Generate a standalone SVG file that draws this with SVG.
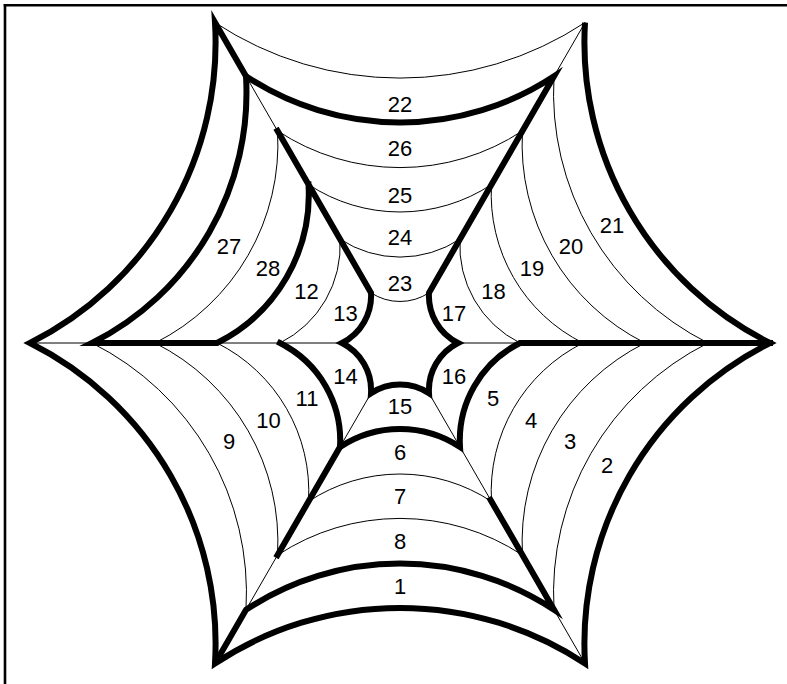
<svg xmlns="http://www.w3.org/2000/svg" width="787" height="684" viewBox="0 0 787 684">
<style>
.thin{fill:none;stroke:#000;stroke-width:1}
.thick{fill:none;stroke:#000;stroke-width:6;stroke-linejoin:miter;stroke-miterlimit:10}
.sq{stroke-linecap:square}
.bt{stroke-linecap:butt}
.frame{fill:none;stroke:#000;stroke-width:2.6}
text{font-family:"Liberation Sans",Arial,sans-serif;font-size:22px;fill:#000;text-anchor:middle}
</style>
<rect width="787" height="684" fill="#fff"/>
<g id="frame">
<line class="frame" x1="3.7" y1="5.3" x2="787" y2="5.3"/>
<line class="frame" x1="5" y1="4" x2="5" y2="684"/>
</g>
<g id="spokes">
<line class="thin" x1="458" y1="343" x2="770" y2="343"/>
<line class="thin" x1="342" y1="343" x2="30" y2="343"/>
<line class="thin" x1="429" y1="292.77" x2="585" y2="22.58"/>
<line class="thin" x1="371" y1="292.77" x2="215" y2="22.58"/>
<line class="thin" x1="429" y1="393.23" x2="585" y2="663.42"/>
<line class="thin" x1="371" y1="393.23" x2="215" y2="663.42"/>
</g>
<g id="rings">
<path class="thin" d="M371,292.77 A52.68,52.68 0 0 0 429,292.77 A52.68,52.68 0 0 0 458,343 A52.68,52.68 0 0 0 429,393.23 A52.68,52.68 0 0 0 371,393.23 A52.68,52.68 0 0 0 342,343 A52.68,52.68 0 0 0 371,292.77"/>
<path class="thin" d="M340,239.08 A109,109 0 0 0 460,239.08 A109,109 0 0 0 520,343 A109,109 0 0 0 460,446.92 A109,109 0 0 0 340,446.92 A109,109 0 0 0 280,343 A109,109 0 0 0 340,239.08"/>
<path class="thin" d="M308.5,184.52 A166.2,166.2 0 0 0 491.5,184.52 A166.2,166.2 0 0 0 583,343 A166.2,166.2 0 0 0 491.5,501.48 A166.2,166.2 0 0 0 308.5,501.48 A166.2,166.2 0 0 0 217,343 A166.2,166.2 0 0 0 308.5,184.52"/>
<path class="thin" d="M277.5,130.82 A222.5,222.5 0 0 0 522.5,130.82 A222.5,222.5 0 0 0 645,343 A222.5,222.5 0 0 0 522.5,555.18 A222.5,222.5 0 0 0 277.5,555.18 A222.5,222.5 0 0 0 155,343 A222.5,222.5 0 0 0 277.5,130.82"/>
<path class="thin" d="M246,76.26 A279.8,279.8 0 0 0 554,76.26 A279.8,279.8 0 0 0 708,343 A279.8,279.8 0 0 0 554,609.74 A279.8,279.8 0 0 0 246,609.74 A279.8,279.8 0 0 0 92,343 A279.8,279.8 0 0 0 246,76.26"/>
<path class="thin" d="M215,22.58 A336.1,336.1 0 0 0 585,22.58 A336.1,336.1 0 0 0 770,343 A336.1,336.1 0 0 0 585,663.42 A336.1,336.1 0 0 0 215,663.42 A336.1,336.1 0 0 0 30,343 A336.1,336.1 0 0 0 215,22.58"/>
</g>
<g id="thick-web">
<path class="thick bt" d="M246,76.26 L215,22.58 A336.1,336.1 0 0 1 30,343 A336.1,336.1 0 0 1 215,663.42 A336.1,336.1 0 0 1 585,663.42 A336.1,336.1 0 0 1 770,343 A336.1,336.1 0 0 1 585,22.58"/>
<path class="thick sq" d="M277.5,130.82 L371,292.77 A52.68,52.68 0 0 1 342,343 A52.68,52.68 0 0 1 371,393.23 A52.68,52.68 0 0 1 429,393.23 A52.68,52.68 0 0 1 458,343 A52.68,52.68 0 0 1 429,292.77 L554,76.26 A279.8,279.8 0 0 1 246,76.26 A279.8,279.8 0 0 1 92,343 L217,343 A166.2,166.2 0 0 0 308.5,184.52"/>
<path class="thick bt" d="M215,663.42 L246,609.74 A279.8,279.8 0 0 1 554,609.74 L489,497.2"/>
<path class="thick sq" d="M280,343 A109,109 0 0 1 340,446.92 A109,109 0 0 1 460,446.92 A109,109 0 0 1 520,343 L770,343"/>
<path class="thick sq" d="M340,446.92 L277.5,555.18"/>
</g>
<g id="labels">
<text id="l1" x="400" y="594">1</text>
<text id="l2" x="607" y="473">2</text>
<text id="l3" x="570" y="449">3</text>
<text id="l4" x="531" y="428">4</text>
<text id="l5" x="493" y="406">5</text>
<text id="l6" x="400" y="460">6</text>
<text id="l7" x="400" y="504">7</text>
<text id="l8" x="400" y="549">8</text>
<text id="l9" x="229" y="449">9</text>
<text id="l10" x="268.5" y="428">10</text>
<text id="l11" x="307" y="406">11</text>
<text id="l12" x="306.5" y="299">12</text>
<text id="l13" x="345.5" y="321">13</text>
<text id="l14" x="345.5" y="384">14</text>
<text id="l15" x="400" y="414">15</text>
<text id="l16" x="454" y="384">16</text>
<text id="l17" x="454" y="321">17</text>
<text id="l18" x="493.5" y="299">18</text>
<text id="l19" x="532" y="276">19</text>
<text id="l20" x="571" y="254">20</text>
<text id="l21" x="612" y="233">21</text>
<text id="l22" x="400" y="112">22</text>
<text id="l23" x="400" y="290.5">23</text>
<text id="l24" x="400" y="245">24</text>
<text id="l25" x="400" y="203">25</text>
<text id="l26" x="400" y="156">26</text>
<text id="l27" x="229" y="254">27</text>
<text id="l28" x="268" y="276">28</text>
</g>
</svg>
